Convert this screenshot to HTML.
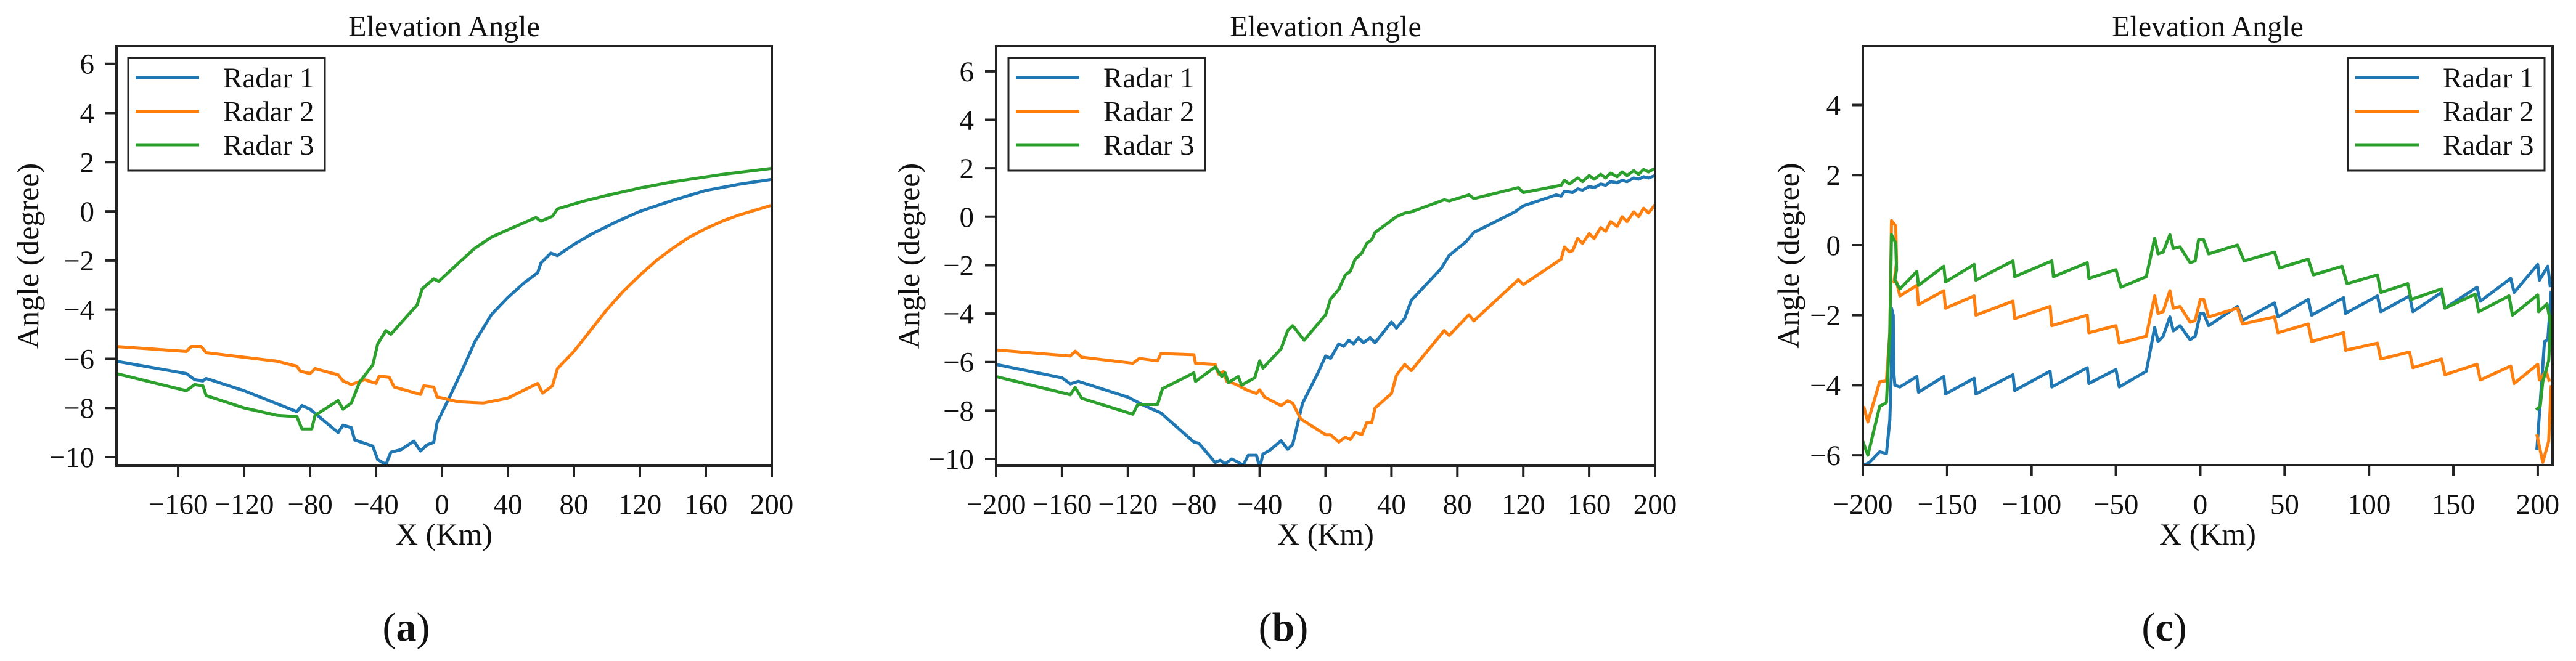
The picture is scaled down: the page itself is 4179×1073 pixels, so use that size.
<!DOCTYPE html>
<html><head><meta charset="utf-8"><style>
html,body{margin:0;padding:0;background:#fff;}
svg, svg text{font-family:"Liberation Serif","Times New Roman",serif;}
svg{display:block;}
</style></head><body>
<svg id="fig" width="4179" height="1073" viewBox="0 0 4179 1073" font-family="Liberation Serif, serif" xmlns="http://www.w3.org/2000/svg"></svg>
<script>
// ---------- data ----------
const seriesNames = ["Radar 1", "Radar 2", "Radar 3"];
const seriesColors = ["#1f77b4", "#ff7f0e", "#2ca02c"];

const xTicksA = [-160, -120, -80, -40, 0, 40, 80, 120, 160, 200];
const xTicksB = [-200, -160, -120, -80, -40, 0, 40, 80, 120, 160, 200];
const xTicksC = [-200, -150, -100, -50, 0, 50, 100, 150, 200];
const yTicksAB = [-10, -8, -6, -4, -2, 0, 2, 4, 6];
const yTicksC = [-6, -4, -2, 0, 2, 4];

const a_radar1 = [[-197.4,-6.1],[-155,-6.6],[-150,-6.85],[-145,-6.9],[-143,-6.8],[-120,-7.3],[-88,-8.15],[-85,-7.9],[-80,-8.05],[-63,-9.0],[-60,-8.7],[-55,-8.8],[-53,-9.3],[-42,-9.55],[-39,-10.1],[-34,-10.3],[-31,-9.8],[-25,-9.7],[-17,-9.35],[-13,-9.75],[-9,-9.5],[-5,-9.4],[-3,-8.6],[5,-7.5],[12,-6.5],[20,-5.3],[30,-4.2],[40,-3.5],[50,-2.9],[58,-2.5],[60,-2.1],[66,-1.7],[70,-1.8],[80,-1.35],[90,-0.95],[105,-0.45],[120,0.0],[140,0.45],[160,0.85],[180,1.1],[200,1.3]];
const a_radar2 = [[-197.4,-5.5],[-155,-5.7],[-152,-5.5],[-146,-5.5],[-143,-5.75],[-100,-6.1],[-88,-6.3],[-86,-6.5],[-80,-6.6],[-77,-6.4],[-63,-6.65],[-60,-6.9],[-55,-7.05],[-47,-6.85],[-40,-7.0],[-38,-6.7],[-32,-6.75],[-29,-7.15],[-13,-7.45],[-11,-7.1],[-5,-7.15],[-3,-7.55],[10,-7.75],[25,-7.8],[40,-7.6],[58,-7.0],[61,-7.4],[67,-7.1],[70,-6.4],[80,-5.7],[90,-4.85],[100,-4.0],[110,-3.25],[120,-2.6],[130,-2.0],[140,-1.5],[150,-1.05],[160,-0.7],[170,-0.4],[180,-0.15],[190,0.05],[200,0.25]];
const a_radar3 = [[-197.4,-6.6],[-155,-7.3],[-150,-7.05],[-145,-7.1],[-143,-7.5],[-120,-8.0],[-100,-8.3],[-88,-8.35],[-85,-8.85],[-79,-8.85],[-77,-8.3],[-63,-7.7],[-60,-8.05],[-55,-7.8],[-50,-6.95],[-42,-6.25],[-39,-5.4],[-34,-4.85],[-31,-5.0],[-15,-3.8],[-12,-3.15],[-5,-2.75],[-2,-2.85],[10,-2.1],[20,-1.5],[30,-1.05],[40,-0.75],[57,-0.25],[60,-0.4],[67,-0.2],[70,0.1],[85,0.4],[100,0.65],[120,0.95],[140,1.2],[170,1.5],[200,1.75]];

const b_radar1 = [[-200,-6.1],[-160,-6.65],[-155,-6.9],[-150,-6.8],[-120,-7.45],[-110,-7.8],[-100,-8.1],[-95,-8.4],[-80,-9.3],[-77,-9.35],[-67,-10.15],[-64,-10.05],[-61,-10.2],[-57,-10.0],[-50,-10.25],[-47,-9.85],[-42,-9.85],[-40,-10.35],[-38,-9.8],[-34,-9.65],[-27,-9.25],[-23,-9.6],[-20,-9.4],[-14,-7.7],[-5,-6.5],[0,-5.75],[3,-5.85],[8,-5.25],[11,-5.35],[14,-5.1],[17,-5.25],[20,-5.0],[23,-5.2],[27,-5.0],[30,-5.2],[40,-4.35],[43,-4.6],[48,-4.2],[52,-3.45],[70,-2.15],[75,-1.6],[85,-1.05],[90,-0.65],[115,0.2],[120,0.45],[140,0.9],[143,0.85],[145,1.05],[150,1.0],[153,1.15],[156,1.1],[160,1.25],[163,1.2],[167,1.35],[170,1.3],[173,1.45],[177,1.4],[180,1.5],[183,1.45],[187,1.6],[190,1.55],[193,1.65],[196,1.6],[200,1.7]];
const b_radar2 = [[-200,-5.5],[-155,-5.75],[-152,-5.55],[-148,-5.8],[-117,-6.05],[-113,-5.85],[-102,-5.95],[-100,-5.65],[-80,-5.7],[-79,-6.05],[-67,-6.1],[-65,-6.5],[-62,-6.4],[-60,-6.8],[-55,-6.9],[-48,-7.15],[-42,-7.3],[-40,-7.15],[-37,-7.45],[-27,-7.8],[-23,-7.6],[-20,-7.7],[-15,-8.35],[0,-9.0],[3,-9.0],[8,-9.3],[12,-9.1],[15,-9.2],[18,-8.9],[22,-9.0],[25,-8.5],[28,-8.5],[30,-7.9],[40,-7.3],[43,-6.55],[48,-6.1],[52,-6.35],[72,-4.7],[75,-4.9],[87,-4.05],[90,-4.3],[117,-2.6],[120,-2.8],[143,-1.75],[145,-1.25],[148,-1.45],[150,-1.4],[153,-0.9],[156,-1.1],[160,-0.7],[163,-0.9],[167,-0.45],[170,-0.6],[173,-0.2],[177,-0.4],[180,0.0],[183,-0.2],[187,0.2],[190,0.0],[193,0.35],[196,0.15],[200,0.5]];
const b_radar3 = [[-200,-6.6],[-155,-7.35],[-152,-7.05],[-148,-7.5],[-117,-8.15],[-114,-7.75],[-102,-7.75],[-99,-7.1],[-80,-6.45],[-79,-6.8],[-67,-6.2],[-63,-6.6],[-61,-6.45],[-59,-6.85],[-53,-6.6],[-51,-6.95],[-43,-6.65],[-40,-5.95],[-38,-6.25],[-27,-5.45],[-23,-4.7],[-20,-4.5],[-13,-5.1],[0,-4.05],[3,-3.4],[8,-3.0],[12,-2.4],[15,-2.25],[18,-1.75],[22,-1.5],[25,-1.1],[28,-0.95],[30,-0.65],[43,0.0],[48,0.15],[52,0.2],[72,0.7],[75,0.65],[87,0.9],[90,0.75],[117,1.2],[120,1.0],[143,1.3],[145,1.5],[148,1.35],[153,1.6],[156,1.45],[160,1.7],[163,1.55],[167,1.75],[170,1.6],[173,1.8],[177,1.65],[180,1.85],[183,1.7],[187,1.9],[190,1.75],[193,1.95],[196,1.85],[200,2.0]];

const c_radar1 = [[-200,-6.3],[-196,-6.2],[-190,-5.9],[-186,-5.95],[-184,-5.0],[-183,-3.5],[-183,-1.8],[-182,-2.0],[-181.5,-3.7],[-181,-4.0],[-178,-4.05],[-168,-3.75],[-167,-4.2],[-152,-3.75],[-151,-4.25],[-134,-3.8],[-133,-4.25],[-111,-3.7],[-110,-4.15],[-89,-3.6],[-88,-4.05],[-67,-3.5],[-66,-3.95],[-50,-3.55],[-48,-4.05],[-32,-3.6],[-27,-2.35],[-25,-2.75],[-22,-2.6],[-18,-2.05],[-16,-2.45],[-12,-2.3],[-6,-2.7],[-3,-2.6],[0,-1.95],[2,-1.95],[5,-2.3],[22,-1.75],[25,-2.15],[44,-1.65],[46,-2.05],[64,-1.55],[66,-2.0],[85,-1.5],[86,-1.95],[105,-1.45],[107,-1.9],[124,-1.45],[126,-1.9],[143,-1.35],[145,-1.8],[164,-1.2],[166,-1.6],[184,-0.95],[186,-1.35],[200,-0.55],[201,-1.0],[206,-0.6],[207.5,-1.2],null,[199.5,-5.85],[204,-2.75],[206,-2.7],[208,-1.3]];
const c_radar2 = [[-199.5,-4.6],[-197,-5.05],[-190,-3.9],[-186,-3.88],[-184,-2.5],[-183,0.7],[-180.5,0.55],[-180,-0.5],[-181.5,-1.05],[-180,-1.05],[-178,-1.45],[-168,-1.15],[-167,-1.7],[-152,-1.3],[-151,-1.8],[-134,-1.45],[-133,-2.0],[-111,-1.6],[-110,-2.1],[-89,-1.75],[-88,-2.3],[-67,-2.0],[-66,-2.5],[-50,-2.3],[-48,-2.8],[-32,-2.6],[-27,-1.45],[-25,-1.95],[-22,-1.9],[-18,-1.3],[-16,-1.8],[-12,-1.75],[-6,-2.2],[-3,-2.15],[0,-1.55],[2,-1.55],[5,-2.05],[22,-1.8],[25,-2.25],[44,-2.05],[46,-2.5],[64,-2.25],[66,-2.75],[85,-2.5],[86,-3.0],[105,-2.8],[107,-3.25],[124,-3.05],[126,-3.5],[143,-3.25],[145,-3.7],[164,-3.4],[166,-3.85],[184,-3.45],[186,-3.95],[200,-3.4],[201,-3.85],[205,-3.6],[207,-3.9],null,[199.5,-5.4],[203,-6.2],[206.5,-5.6],[208,-4.0]];
const c_radar3 = [[-200,-5.6],[-197,-6.0],[-190,-4.6],[-186,-4.5],[-184,-2.5],[-183,0.3],[-180.5,0.05],[-180,-0.7],[-181,-1.0],[-178,-1.25],[-168,-0.75],[-167,-1.15],[-152,-0.6],[-151,-1.05],[-134,-0.55],[-133,-1.0],[-111,-0.45],[-110,-0.9],[-88,-0.45],[-87,-0.9],[-67,-0.5],[-66,-0.95],[-50,-0.7],[-47,-1.2],[-32,-0.9],[-27,0.2],[-25,-0.25],[-22,-0.2],[-18,0.3],[-16,-0.1],[-12,-0.05],[-6,-0.5],[-3,-0.45],[-1,0.15],[2,0.15],[5,-0.25],[22,0.0],[26,-0.45],[44,-0.2],[47,-0.65],[64,-0.4],[67,-0.85],[84,-0.6],[87,-1.1],[105,-0.85],[107,-1.35],[123,-1.1],[125,-1.55],[143,-1.25],[145,-1.8],[163,-1.4],[165,-1.9],[183,-1.45],[185,-2.0],[200,-1.42],[200.5,-1.9],[205.5,-1.68],[207.5,-2.2],null,[199,-4.7],[201.5,-4.6],[203,-3.9],[206.5,-3.3],[208,-2.0]];

// ---------- drawing ----------
const NS = "http://www.w3.org/2000/svg";
const FONT = "Liberation Serif, Times New Roman, serif";
const svg = document.getElementById("fig");
function mk(tag, attrs, parent) {
  const e = document.createElementNS(NS, tag);
  for (const k in attrs) e.setAttribute(k, attrs[k]);
  if (tag === "text") e.setAttribute("font-family", FONT);
  (parent || svg).appendChild(e);
  return e;
}

const panels = [
  {id:"a", L:189, R:1252, T:75, B:756, xmin:-197.4, xmax:200, ymin:-10.35, ymax:6.72, xt:xTicksA, yt:yTicksAB, data:[a_radar1,a_radar2,a_radar3], leg:208, ylab:45, cap:659},
  {id:"b", L:1616, R:2685, T:75, B:756, xmin:-200, xmax:200, ymin:-10.28, ymax:7.04, xt:xTicksB, yt:yTicksAB, data:[b_radar1,b_radar2,b_radar3], leg:1636, ylab:1474, cap:2082},
  {id:"c", L:3022, R:4141, T:75, B:755, xmin:-200, xmax:208.8, ymin:-6.28, ymax:5.68, xt:xTicksC, yt:yTicksC, data:[c_radar1,c_radar2,c_radar3], leg:3809, ylab:2901, cap:3511}
];

panels.forEach(p => {
  const sx = v => p.L + (v - p.xmin) / (p.xmax - p.xmin) * (p.R - p.L);
  const sy = v => p.B - (v - p.ymin) / (p.ymax - p.ymin) * (p.B - p.T);
  const g = mk("g", {});
  
  
  const cx = (p.L + p.R) / 2;

  const title = mk("text", {x:cx, y:59, "font-size":48, "text-anchor":"middle", fill:"#111"}, g);
  title.textContent = "Elevation Angle";
  
  

  const clipId = "clip" + p.id;
  const cp = mk("clipPath", {id:clipId}, g);
  mk("rect", {x:p.L, y:p.T, width:p.R - p.L, height:p.B - p.T}, cp);

  p.data.forEach((ser, si) => {
    let d = "", pen = false;
    ser.forEach(pt => {
      if (pt === null) { pen = false; return; }
      d += (pen ? "L" : "M") + sx(pt[0]).toFixed(1) + " " + sy(pt[1]).toFixed(1);
      pen = true;
    });
    const path = mk("path", {d:d, fill:"none", stroke:seriesColors[si], "stroke-width":5, "stroke-linejoin":"round", "clip-path":"url(#" + clipId + ")"}, g);
    
    
  });

  const frame = mk("rect", {x:p.L, y:p.T, width:p.R - p.L, height:p.B - p.T, fill:"none", stroke:"#222", "stroke-width":4}, g);
  
  

  p.xt.forEach(v => {
    const x = sx(v);
    const t = mk("line", {x1:x, y1:p.B, x2:x, y2:p.B + 18, stroke:"#222", "stroke-width":4}, g);
    
    
    const lb = mk("text", {x:x, y:834, "font-size":47, "text-anchor":"middle", fill:"#111"}, g);
    lb.textContent = (v < 0 ? "\u2212" + (-v) : String(v));
    
    
  });
  p.yt.forEach(v => {
    const y = sy(v);
    const t = mk("line", {x1:p.L - 18, y1:y, x2:p.L, y2:y, stroke:"#222", "stroke-width":4}, g);
    
    
    const lb = mk("text", {x:p.L - 36, y:y + 16, "font-size":47, "text-anchor":"end", fill:"#111"}, g);
    lb.textContent = (v < 0 ? "\u2212" + (-v) : String(v));
    
    
  });

  const xl = mk("text", {x:cx, y:884, "font-size":50, "text-anchor":"middle", fill:"#111"}, g);
  xl.textContent = "X (Km)";
  
  

  const yl = mk("text", {x:0, y:0, "font-size":50, "text-anchor":"middle", fill:"#111", transform:"translate(" + (p.ylab + 17) + "," + ((p.T + p.B) / 2) + ") rotate(-90)"}, g);
  yl.textContent = "Angle (degree)";
  
  

  // legend
  const lg = mk("g", {}, g);
  
  
  mk("rect", {x:p.leg, y:94, width:319, height:183, fill:"#fff", stroke:"#222", "stroke-width":3}, lg);
  seriesNames.forEach((nm, si) => {
    const yy = 126 + si * 54.5;
    const ln = mk("line", {x1:p.leg + 12, y1:yy, x2:p.leg + 115, y2:yy, stroke:seriesColors[si], "stroke-width":5}, lg);
    
    
    const tx = mk("text", {x:p.leg + 154, y:yy + 16, "font-size":47, fill:"#111"}, lg);
    tx.textContent = nm;
    
    
  });

  const cap = mk("text", {x:p.cap, y:1040, "font-size":66, "text-anchor":"middle", fill:"#111"}, g);
  cap.innerHTML = '(<tspan font-weight="bold">' + p.id + '</tspan>)';
  
  
});
</script>
</body></html>
